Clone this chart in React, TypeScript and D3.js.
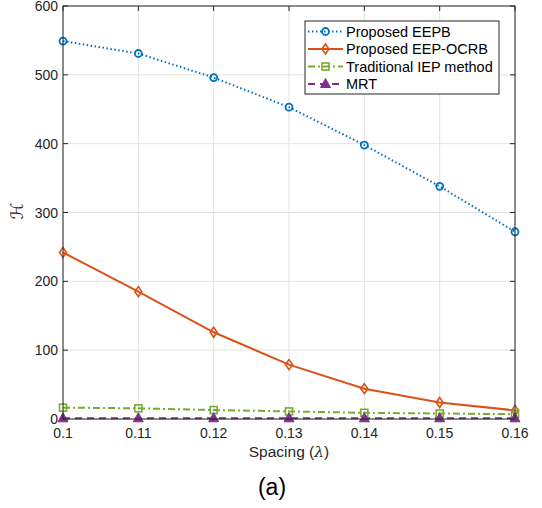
import React from 'react'
import * as d3 from 'd3'

const spacing = [0.1, 0.11, 0.12, 0.13, 0.14, 0.15, 0.16]
const eepb = [549, 531, 496, 453, 398, 338, 272]
const eepOcrb = [242, 185, 126, 79, 44, 24, 12.5]
const iep = [16.5, 15.5, 13, 11, 9, 8, 7]
const mrt = [1, 1, 1, 1, 1, 1, 1]
const xTicks = ['0.1', '0.11', '0.12', '0.13', '0.14', '0.15', '0.16']
const yTicks = [0, 100, 200, 300, 400, 500, 600]
const seriesNames = ['Proposed EEPB', 'Proposed EEP-OCRB', 'Traditional IEP method', 'MRT']

const width = 542
const height = 508
const margin = { left: 63, right: 27, top: 6, bottom: 89 }
const textColor = '#262626'
const font = 'Liberation Sans, Arial, sans-serif'

const series = [
  { name: seriesNames[0], values: eepb, color: '#0072BD', dash: '1.5,2.5', marker: 'circle' },
  { name: seriesNames[1], values: eepOcrb, color: '#D95319', dash: null, marker: 'diamond' },
  { name: seriesNames[2], values: iep, color: '#77AC30', dash: '7,3,2,3', marker: 'square' },
  { name: seriesNames[3], values: mrt, color: '#7E2F8E', dash: '7,5', marker: 'triangle' },
]

const Marker = ({ type, x, y, color }) => {
  if (type === 'circle')
    return <circle cx={x} cy={y} r={3.5} fill='none' stroke={color} strokeWidth={1.8} />
  if (type === 'diamond')
    return <path d={`M${x},${y - 5}L${x + 3.5},${y}L${x},${y + 5}L${x - 3.5},${y}Z`} fill='none' stroke={color} strokeWidth={1.6} />
  if (type === 'square')
    return <rect x={x - 3.5} y={y - 3.5} width={7} height={7} fill='none' stroke={color} strokeWidth={1.6} />
  return <path d={`M${x},${y - 5.5}L${x + 5},${y + 3.5}L${x - 5},${y + 3.5}Z`} fill={color} stroke={color} strokeWidth={1} />
}

export default function App() {
  const x = d3.scaleLinear().domain([0.1, 0.16]).range([margin.left, width - margin.right])
  const y = d3.scaleLinear().domain([0, 600]).range([height - margin.bottom, margin.top])
  const [x0, x1] = x.range()
  const [y0, y1] = y.range()
  const line = d3.line().x(d => x(d[0])).y(d => y(d[1]))

  const legendX = 305
  const legendY = 21
  const rowH = 17.5

  return (
    <svg width={width} height={height} style={{ display: 'block', position: 'absolute', left: 0, top: 0 }}>
      <rect width={width} height={height} fill='#fff' />
      {/* grid */}
      {spacing.map((v, i) => (
        <line key={'gx' + i} x1={x(v)} x2={x(v)} y1={y0} y2={y1} stroke='#e3e3e3' strokeWidth={1} />
      ))}
      {yTicks.map((v, i) => (
        <line key={'gy' + i} x1={x0} x2={x1} y1={y(v)} y2={y(v)} stroke='#e3e3e3' strokeWidth={1} />
      ))}
      {/* ticks inward */}
      {spacing.map((v, i) => (
        <g key={'tx' + i} stroke={textColor}>
          <line x1={x(v)} x2={x(v)} y1={y0} y2={y0 - 5} />
          <line x1={x(v)} x2={x(v)} y1={y1} y2={y1 + 5} />
        </g>
      ))}
      {yTicks.map((v, i) => (
        <g key={'ty' + i} stroke={textColor}>
          <line x1={x0} x2={x0 + 5} y1={y(v)} y2={y(v)} />
          <line x1={x1} x2={x1 - 5} y1={y(v)} y2={y(v)} />
        </g>
      ))}
      {/* series */}
      {series.map(s => {
        const pts = spacing.map((v, i) => [v, s.values[i]])
        return (
          <g key={s.name}>
            <path d={line(pts)} fill='none' stroke={s.color} strokeWidth={2} strokeDasharray={s.dash || undefined} />
            {pts.map((p, i) => <Marker key={i} type={s.marker} x={x(p[0])} y={y(p[1])} color={s.color} />)}
          </g>
        )
      })}
      {/* box */}
      <rect x={x0} y={y1} width={x1 - x0} height={y0 - y1} fill='none' stroke={textColor} strokeWidth={1} />
      {/* tick labels */}
      {spacing.map((v, i) => (
        <text key={'lx' + i} x={x(v)} y={y0 + 19} textAnchor='middle' fontSize={14} fill={textColor} fontFamily={font}>{xTicks[i]}</text>
      ))}
      {yTicks.map((v, i) => (
        <text key={'ly' + i} x={x0 - 5} y={y(v) + 5} textAnchor='end' fontSize={14} fill={textColor} fontFamily={font}>{v}</text>
      ))}
      <text x={289} y={457} textAnchor='middle' fontSize={15.5} fill={textColor} fontFamily={font}>
        Spacing (<tspan fontStyle='italic' fontFamily='DejaVu Serif, serif'>λ</tspan>)
      </text>
      <text transform='translate(23,211) rotate(-90)' textAnchor='middle' fontSize={17} fill={textColor} fontFamily='DejaVu Sans, serif'>ℋ</text>
      <text x={272} y={495} textAnchor='middle' fontSize={23} fill='#000' fontFamily={font}>(a)</text>
      {/* legend */}
      <rect x={legendX} y={legendY} width={194} height={73} fill='#fff' stroke={textColor} strokeWidth={1} />
      {series.map((s, i) => {
        const cy = legendY + 10.5 + i * rowH
        return (
          <g key={'lg' + i}>
            <line x1={legendX + 3} x2={legendX + 38} y1={cy} y2={cy} stroke={s.color} strokeWidth={2} strokeDasharray={s.dash || undefined} />
            <Marker type={s.marker} x={legendX + 20.5} y={cy} color={s.color} />
            <text x={legendX + 41} y={cy + 5} fontSize={14.5} fill='#000' fontFamily={font}>{s.name}</text>
          </g>
        )
      })}
    </svg>
  )
}
